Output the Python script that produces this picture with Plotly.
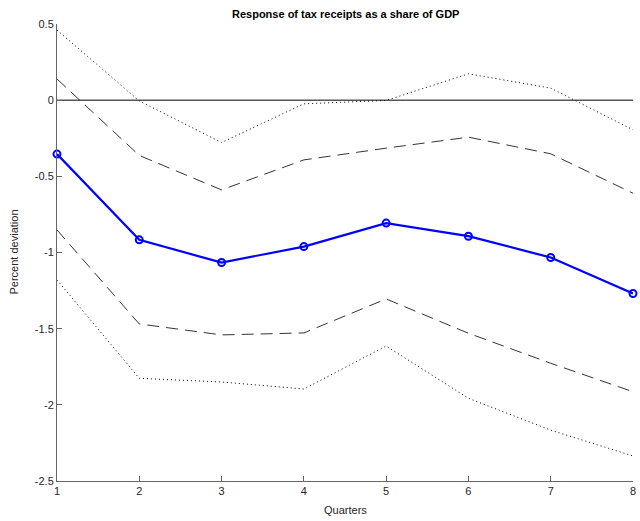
import plotly.graph_objects as go

quarters = [1, 2, 3, 4, 5, 6, 7, 8]
response = [-0.354, -0.917, -1.066, -0.961, -0.807, -0.893, -1.033, -1.269]
upper68 = [0.139, -0.363, -0.589, -0.392, -0.315, -0.243, -0.352, -0.611]
lower68 = [-0.852, -1.469, -1.541, -1.528, -1.305, -1.53, -1.727, -1.914]
upper90 = [0.46, -0.005, -0.278, -0.024, -0.002, 0.173, 0.079, -0.195]
lower90 = [-1.18, -1.826, -1.850, -1.896, -1.614, -1.957, -2.166, -2.336]
zero_line = [0, 0, 0, 0, 0, 0, 0, 0]

y_ticks = [-2.5, -2, -1.5, -1, -0.5, 0, 0.5]
y_ticktext = ["-2.5", "-2", "-1.5", "-1", "-0.5", "0", "0.5"]
x_ticks = quarters

fig = go.Figure()
fig.add_trace(go.Scatter(x=quarters, y=zero_line, mode="lines",
                         line=dict(color="black", width=1), hoverinfo="skip"))
fig.add_trace(go.Scatter(x=quarters, y=upper90, mode="lines",
                         line=dict(color="black", width=1, dash="1px,3px")))
fig.add_trace(go.Scatter(x=quarters, y=lower90, mode="lines",
                         line=dict(color="black", width=1, dash="1px,3px")))
fig.add_trace(go.Scatter(x=quarters, y=upper68, mode="lines",
                         line=dict(color="black", width=0.8, dash="12px,7px")))
fig.add_trace(go.Scatter(x=quarters, y=lower68, mode="lines",
                         line=dict(color="black", width=0.8, dash="12px,7px")))
fig.add_trace(go.Scatter(x=quarters, y=response, mode="lines+markers",
                         line=dict(color="#0000FF", width=2.2),
                         marker=dict(symbol="circle-open", size=7, color="#0000FF",
                                     line=dict(width=2, color="#0000FF")),
                         cliponaxis=False))

axis_font = dict(family="Liberation Sans, Arial, sans-serif", size=11, color="#262626")

fig.update_layout(
    width=640, height=521,
    margin=dict(l=57, r=4, t=24, b=40),
    paper_bgcolor="white", plot_bgcolor="white",
    showlegend=False,
    font=axis_font,
    xaxis=dict(range=[1, 8], tickvals=x_ticks, ticktext=[str(q) for q in x_ticks],
               showgrid=False, zeroline=False, showline=True, linecolor="#666666",
               linewidth=1, ticks="inside", ticklen=5, tickcolor="#666666",
               tickfont=axis_font),
    yaxis=dict(range=[-2.5, 0.5], tickvals=y_ticks, ticktext=y_ticktext,
               showgrid=False, zeroline=False, showline=True, linecolor="#666666",
               linewidth=1, ticks="inside", ticklen=5, tickcolor="#666666",
               tickfont=axis_font),
    annotations=[
        dict(text="<b>Response of tax receipts as a share of GDP</b>", x=0.5, y=14,
             xref="paper", yref="paper", showarrow=False, xanchor="center", yanchor="middle",
             font=dict(family="Liberation Sans, Arial, sans-serif", size=11, color="black")),
        dict(text="Quarters", x=0.5, xref="paper", y=0, yref="paper", yshift=-29,
             showarrow=False, xanchor="center", yanchor="middle",
             font=dict(family="Liberation Sans, Arial, sans-serif", size=11, color="#262626")),
        dict(text="Percent deviation", x=0, xref="paper", xshift=-44, y=0.5, yref="paper",
             showarrow=False, textangle=-90, xanchor="center", yanchor="middle",
             font=dict(family="Liberation Sans, Arial, sans-serif", size=11, color="#262626")),
    ],
)
# place title in pixel coordinates: convert y=14px from top into paper coords
plot_h = 521 - 24 - 40
fig.layout.annotations[0].y = 1 + (24 - 14) / plot_h

fig.write_html("out.html")
